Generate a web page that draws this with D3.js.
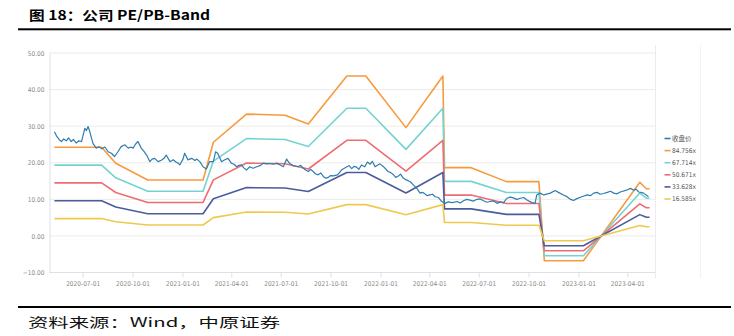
<!DOCTYPE html>
<html>
<head>
<meta charset="utf-8">
<script src="https://cdn.jsdelivr.net/npm/d3@7"></script>
<style>
  html, body { margin: 0; padding: 0; background: #fff; }
  svg { display: block; }
</style>
</head>
<body>
<svg id="chart" width="734" height="336"></svg>
<script>
// ---------------- DATA ----------------
const titleText = "图 18：公司 PE/PB-Band";
const sourceText = "资料来源：Wind，中原证券";

const yTicks = [-10, 0, 10, 20, 30, 40, 50];
const xTickLabels = ["2020-07-01","2020-10-01","2021-01-01","2021-04-01","2021-07-01","2021-10-01",
  "2022-01-01","2022-04-01","2022-07-01","2022-10-01","2023-01-01","2023-04-01"];

const seriesNames = ["收盘价", "84.756x", "67.714x", "50.671x", "33.628x", "16.585x"];

const bandDates = ["2020-05-10","2020-08-05","2020-08-31","2020-10-29","2021-02-08","2021-02-27",
  "2021-04-29","2021-07-09","2021-08-21","2021-10-31","2021-12-05","2022-02-17","2022-04-26",
  "2022-04-29","2022-06-17","2022-08-21","2022-10-20","2022-10-30","2023-01-10","2023-04-24",
  "2023-05-06","2023-05-12"];
const band84756 = [24.23,24.23,19.86,15.30,15.30,25.60,33.30,33.00,30.60,43.70,43.70,29.60,43.70,18.66,18.66,14.84,14.84,-6.80,-6.80,14.67,12.90,12.90];
const band67714 = [19.36,19.36,15.87,12.22,12.22,20.45,26.60,26.36,24.45,34.91,34.91,23.65,34.91,14.91,14.91,11.86,11.86,-5.43,-5.43,11.72,10.31,10.31];
const band50671 = [14.49,14.49,11.87,9.15,9.15,15.31,19.91,19.73,18.29,26.13,26.13,17.70,26.13,11.16,11.16,8.87,8.87,-4.07,-4.07,8.77,7.71,7.71];
const band33628 = [9.61,9.61,7.88,6.07,6.07,10.16,13.21,13.09,12.14,17.34,17.34,11.74,17.34,7.40,7.40,5.89,5.89,-2.70,-2.70,5.82,5.12,5.12];
const band16585 = [4.74,4.74,3.89,2.99,2.99,5.01,6.52,6.46,5.99,8.55,8.55,5.79,8.55,3.65,3.65,2.90,2.90,-1.33,-1.33,2.87,2.52,2.52];

const priceDates = [
  "2020-05-10","2020-05-14","2020-05-19","2020-05-23","2020-05-27","2020-06-01","2020-06-05","2020-06-10",
  "2020-06-14","2020-06-19","2020-06-24","2020-06-29","2020-07-05","2020-07-08","2020-07-11","2020-07-14",
  "2020-07-20","2020-07-26","2020-07-31","2020-08-05","2020-08-11","2020-08-17","2020-08-23","2020-08-29",
  "2020-09-04","2020-09-10","2020-09-17","2020-09-23","2020-09-28","2020-10-02","2020-10-07","2020-10-11",
  "2020-10-17","2020-10-22","2020-10-27","2020-11-02","2020-11-06","2020-11-11","2020-11-17","2020-11-23",
  "2020-11-28","2020-12-02","2020-12-09","2020-12-15","2020-12-20","2020-12-24","2020-12-27","2021-01-02",
  "2021-01-05","2021-01-11","2021-01-18","2021-01-24","2021-01-27","2021-02-02","2021-02-08","2021-02-14",
  "2021-02-20","2021-02-27","2021-03-03","2021-03-07","2021-03-14","2021-03-20","2021-03-26","2021-04-01",
  "2021-04-06","2021-04-11","2021-04-15","2021-04-20","2021-04-24","2021-04-29","2021-05-05","2021-05-11",
  "2021-05-18","2021-05-24","2021-05-30","2021-06-05","2021-06-11","2021-06-17","2021-06-24","2021-06-30",
  "2021-07-06","2021-07-12","2021-07-17","2021-07-24","2021-08-02","2021-08-07","2021-08-12","2021-08-16",
  "2021-08-21","2021-08-25","2021-08-30","2021-09-03","2021-09-08","2021-09-13","2021-09-18","2021-09-22",
  "2021-09-27","2021-10-01","2021-10-06","2021-10-14","2021-10-21","2021-10-31","2021-11-04","2021-11-09",
  "2021-11-13","2021-11-18","2021-11-22","2021-11-27","2021-12-03","2021-12-08","2021-12-13","2021-12-17",
  "2021-12-22","2021-12-31","2022-01-06","2022-01-15","2022-01-20","2022-01-25","2022-01-29","2022-02-03",
  "2022-02-07","2022-02-12","2022-02-16","2022-02-21","2022-02-25","2022-03-03","2022-03-09","2022-03-15",
  "2022-03-19","2022-03-24","2022-03-28","2022-04-02","2022-04-07","2022-04-12","2022-04-18","2022-04-24",
  "2022-04-30","2022-05-06","2022-05-13","2022-05-22","2022-05-28","2022-06-03","2022-06-09","2022-06-15",
  "2022-06-21","2022-06-28","2022-07-04","2022-07-10","2022-07-16","2022-07-22","2022-07-28","2022-08-04",
  "2022-08-10","2022-08-16","2022-08-22","2022-08-28","2022-09-03","2022-09-09","2022-09-16","2022-09-22",
  "2022-09-28","2022-10-07","2022-10-13","2022-10-16","2022-10-22","2022-10-29","2022-11-10","2022-11-19",
  "2022-11-25","2022-12-04","2022-12-10","2022-12-17","2022-12-23","2022-12-29","2023-01-07","2023-01-17",
  "2023-01-23","2023-01-29","2023-02-04","2023-02-10","2023-02-16","2023-02-23","2023-03-01","2023-03-07",
  "2023-03-13","2023-03-19","2023-04-01","2023-04-07","2023-04-13","2023-04-17","2023-04-22","2023-04-26",
  "2023-05-01","2023-05-10"];
const priceValues = [
  28.5,27.3,26.3,25.8,26.5,26.0,26.8,25.8,
  26.4,25.4,26.0,25.8,29.4,28.8,29.9,28.6,
  25.3,24.0,24.4,23.8,24.3,23.0,22.6,21.7,
  23.0,24.4,24.9,24.0,24.3,24.0,25.2,25.8,
  24.0,23.1,22.1,20.3,21.0,21.2,20.3,20.7,
  21.2,22.1,20.3,20.8,20.2,19.9,19.4,21.0,
  22.6,20.8,21.2,20.6,21.0,20.3,18.9,18.3,
  20.3,20.3,23.0,22.6,20.3,20.8,21.2,19.9,
  19.6,18.9,19.3,19.4,18.6,18.0,18.9,18.5,
  18.9,19.2,19.9,19.7,19.8,19.6,19.9,19.4,
  18.9,21.0,19.9,19.2,18.9,19.3,18.5,18.0,
  17.6,18.2,17.6,17.0,16.7,17.2,16.2,15.8,
  16.0,16.5,16.4,16.7,18.0,18.9,19.2,18.4,
  19.0,18.8,18.2,19.4,18.9,20.2,19.6,20.4,
  18.9,19.7,19.0,17.6,17.3,16.7,16.0,16.4,
  16.9,15.8,15.4,15.1,14.8,13.9,13.0,11.7,
  11.9,11.5,11.0,11.2,11.4,10.7,10.5,9.4,
  8.9,9.3,9.1,9.4,9.0,9.6,10.0,9.8,
  9.5,10.0,10.1,9.6,9.2,9.4,9.6,8.9,
  9.3,9.1,10.3,10.6,10.4,10.0,10.3,10.5,
  9.8,9.1,8.9,11.2,11.7,11.2,11.7,12.4,
  11.9,11.2,10.8,10.0,9.7,10.2,10.7,11.2,
  11.0,11.7,11.9,11.4,11.6,11.9,12.2,11.7,
  11.5,12.0,12.6,13.0,12.5,12.8,12.0,11.9,
  11.7,10.7];

// ---------------- CHART ----------------
const parse = d3.timeParse("%Y-%m-%d");
const svg = d3.select("#chart");

const x = d3.scaleTime()
  .domain([parse("2020-04-30"), parse("2023-05-22")])
  .range([49, 655]);
const y = d3.scaleLinear().domain([-10, 50]).range([272.5, 53]);

const colors = ["#2F7DAF", "#F79A3E", "#74D3D1", "#EE6D70", "#4B5B9C", "#EFC94E"];

// title
svg.append("text")
  .attr("x", 29).attr("y", 19.5)
  .attr("font-family", "'Noto Sans CJK SC', 'Liberation Sans', sans-serif")
  .attr("font-weight", "bold").attr("font-size", 13)
  .attr("textLength", 181).attr("lengthAdjust", "spacingAndGlyphs")
  .attr("fill", "#000")
  .text(titleText);
svg.append("rect").attr("x", 18).attr("y", 28.3).attr("width", 713).attr("height", 2).attr("fill", "#000");

// source
svg.append("rect").attr("x", 18).attr("y", 306).attr("width", 713).attr("height", 2).attr("fill", "#000");
svg.append("text")
  .attr("x", 28).attr("y", 326.5)
  .attr("font-family", "'Noto Sans CJK SC', 'Liberation Sans', sans-serif")
  .attr("font-size", 13)
  .attr("textLength", 252).attr("lengthAdjust", "spacingAndGlyphs")
  .attr("fill", "#111")
  .text(sourceText);

// gridlines
const g = svg.append("g");
g.selectAll("line.grid").data(yTicks).enter().append("line")
  .attr("class", "grid")
  .attr("x1", 49).attr("x2", 655)
  .attr("y1", d => y(d)).attr("y2", d => y(d))
  .attr("stroke", "#ebebeb").attr("stroke-width", 1);

// right frame lines
g.append("line").attr("x1", 655.5).attr("x2", 655.5).attr("y1", 45).attr("y2", 278)
  .attr("stroke", "#ececec");
g.append("line").attr("x1", 700.5).attr("x2", 700.5).attr("y1", 45).attr("y2", 278)
  .attr("stroke", "#f2f2f2");

// y axis
const yAxis = d3.axisLeft(y).tickValues(yTicks).tickSize(0).tickPadding(5)
  .tickFormat(d3.format(".2f"));
const ya = svg.append("g").attr("transform", "translate(49.5,0)").call(yAxis);
ya.select(".domain").attr("stroke", "#dde0e6");
ya.selectAll("text")
  .attr("font-family", "'Liberation Sans Narrow', 'DejaVu Sans Condensed', sans-serif")
  .attr("font-size", 6.5).attr("fill", "#8a8a8a");

// x axis
const xAxis = d3.axisBottom(x).tickValues(xTickLabels.map(parse)).tickSize(5).tickPadding(4)
  .tickFormat(d3.timeFormat("%Y-%m-%d"));
const xa = svg.append("g").attr("transform", "translate(0,272.5)").call(xAxis);
xa.select(".domain").attr("stroke", "#dde0e6").attr("d", "M49,0H655");
xa.selectAll(".tick line").attr("stroke", "#dde0e6");
xa.selectAll("text")
  .attr("font-family", "'Liberation Sans Narrow', 'DejaVu Sans Condensed', sans-serif")
  .attr("font-size", 6.5).attr("fill", "#8a8a8a");

// bands
const bands = [band84756, band67714, band50671, band33628, band16585];
const line = d3.line().x(d => x(d[0])).y(d => y(d[1]));
bands.forEach((vals, i) => {
  const pts = bandDates.map((d, j) => [parse(d), vals[j]]);
  svg.append("path").datum(pts)
    .attr("fill", "none").attr("stroke", colors[i + 1])
    .attr("stroke-width", 1.6).attr("stroke-linejoin", "round")
    .attr("d", line);
});

// price
const pricePts = priceDates.map((d, j) => [parse(d), priceValues[j]]);
svg.append("path").datum(pricePts)
  .attr("fill", "none").attr("stroke", colors[0])
  .attr("stroke-width", 1.2).attr("stroke-linejoin", "round")
  .attr("d", line);

// legend
const lg = svg.append("g");
seriesNames.forEach((name, i) => {
  const yy = 138.5 + i * 12.1;
  lg.append("line").attr("x1", 664.5).attr("x2", 670.5).attr("y1", yy).attr("y2", yy)
    .attr("stroke", colors[i]).attr("stroke-width", 1.6);
  lg.append("text").attr("x", 672).attr("y", yy + 2.3)
    .attr("font-family", i === 0 ? "'Noto Sans CJK SC', sans-serif" : "'Liberation Sans Narrow', 'DejaVu Sans Condensed', sans-serif")
    .attr("font-size", 6.5).attr("fill", "#555")
    .text(name);
});
</script>
</body>
</html>
